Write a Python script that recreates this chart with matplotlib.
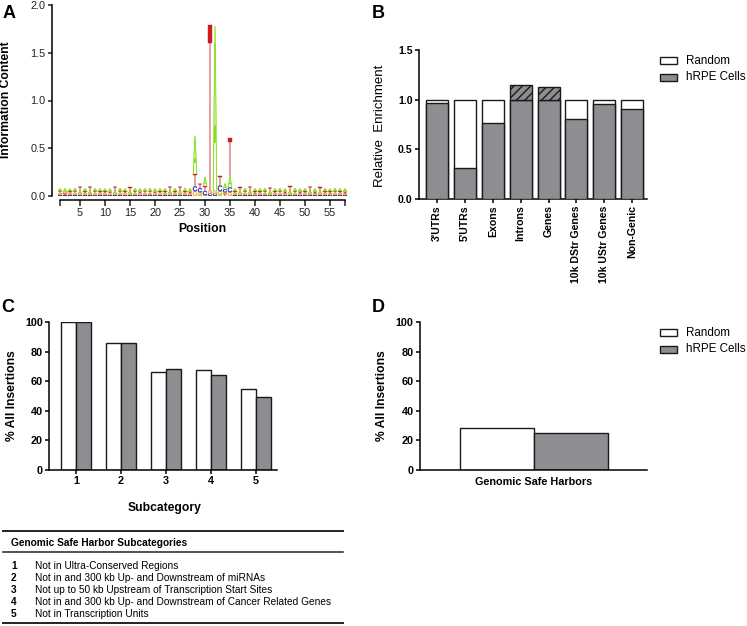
import matplotlib
matplotlib.use("Agg")
import matplotlib.pyplot as plt
from matplotlib.textpath import TextPath
from matplotlib.patches import PathPatch, Rectangle
from matplotlib.font_manager import FontProperties
from matplotlib.lines import Line2D
import matplotlib.transforms as mtrans
import numpy as np

plt.rcParams['font.family'] = ['Liberation Sans', 'DejaVu Sans']
plt.rcParams['hatch.linewidth'] = 1.0

# ---------------- data ----------------
# Panel A: sequence logo, information content (bits) per letter, positions 1..58
positions = list(range(1, 59))
logo_A = [.030, .032, .028, .030, .026, .031, .027, .029, .030, .028,
          .030, .029, .031, .028, .027, .030, .032, .029, .031, .030,
          .029, .031, .027, .033, .028, .034, .036,
          .40, .01, .10, .005, 1.72, .01, .06, .12,
          .030, .027, .031, .028, .030, .029, .031, .027, .030, .029,
          .031, .028, .030, .029, .031, .028, .030, .027, .031, .029, .030, .028, .032]
logo_T = [.022, .018, .020, .024, .040, .020, .042, .022, .020, .021,
          .020, .038, .021, .022, .036, .020, .019, .023, .021, .020,
          .022, .020, .044, .021, .040, .020, .018,
          .13, .05, .05, 1.74, .005, .10, .02, .40,
          .020, .038, .021, .036, .022, .020, .021, .034, .020, .022,
          .020, .045, .022, .021, .020, .036, .021, .034, .020, .022, .021, .020, .019]
logo_G = [.016, .018, .017, .015, .018, .016, .017, .018, .016, .017,
          .017, .016, .018, .017, .016, .018, .017, .016, .018, .017,
          .016, .017, .018, .016, .017, .018, .016,
          .05, .03, .01, .03, .03, .04, .02, .04,
          .017, .016, .018, .017, .016, .018, .017, .016, .018, .017,
          .016, .018, .017, .016, .018, .017, .016, .018, .017, .016, .018, .017, .016]
logo_C = [.012, .010, .011, .012, .010, .012, .011, .010, .012, .011,
          .010, .011, .012, .010, .011, .012, .010, .011, .012, .010,
          .011, .012, .010, .011, .012, .011, .010,
          .05, .04, .04, .02, .02, .06, .03, .05,
          .012, .010, .011, .012, .010, .011, .012, .010, .011, .012,
          .010, .011, .012, .010, .011, .012, .010, .011, .012, .010, .011, .012, .010]
letter_colors = {'A': '#86E01E', 'T': '#CC1C1C', 'G': '#EEB040', 'C': '#2C2CC0'}

# Panel B: relative enrichment
b_categories = ["3'UTRs", "5'UTRs", "Exons", "Introns", "Genes",
                "10k DStr Genes", "10k UStr Genes", "Non-Genic"]
b_random = [1.0, 1.0, 1.0, 1.0, 1.0, 1.0, 1.0, 1.0]
b_hrpe = [0.97, 0.31, 0.77, 1.15, 1.13, 0.81, 0.96, 0.91]

# Panel C: % all insertions per subcategory
c_subcats = [1, 2, 3, 4, 5]
c_random = [100, 86, 66.5, 67.5, 54.5]
c_hrpe = [100, 86, 68.5, 64, 49.5]

# Panel D
d_category = ["Genomic Safe Harbors"]
d_random = [28.7]
d_hrpe = [25.2]

series_names = ["Random", "hRPE Cells"]
series_colors = ["white", "#8E8E92"]

table_title = "Genomic Safe Harbor Subcategories"
table_rows = ["Not in Ultra-Conserved Regions",
              "Not in and 300 kb Up- and Downstream of miRNAs",
              "Not up to 50 kb Upstream of Transcription Start Sites",
              "Not in and 300 kb Up- and Downstream of Cancer Related Genes",
              "Not in Transcription Units"]

# ---------------- layout helpers ----------------
W, H = 747, 626
fig = plt.figure(figsize=(W / 100, H / 100), dpi=100)
PT = 0.72  # px -> pt
TICK_FS = 7.8
LAB_FS = 8.7


def add_ax(x0, x1, ytop, ybot):
    return fig.add_axes([x0 / W, 1 - ybot / H, (x1 - x0) / W, (ybot - ytop) / H])


def style_axes(ax, bold_ticks=True, fs=TICK_FS):
    for s in ['top', 'right']:
        ax.spines[s].set_visible(False)
    for s in ['left', 'bottom']:
        ax.spines[s].set_linewidth(1.1)
    ax.tick_params(direction='out', length=3, width=1.1, labelsize=fs, pad=1.5)
    if bold_ticks:
        for lab in ax.get_xticklabels() + ax.get_yticklabels():
            lab.set_fontweight('bold')


def label_coords(ax, axis, px, py):
    inv = ax.transAxes.inverted()
    disp = fig.transFigure.transform((px / W, 1 - py / H))
    x, y = inv.transform(disp)
    if axis == 'y':
        ax.yaxis.set_label_coords(x, y)
    else:
        ax.xaxis.set_label_coords(x, y)


# ---------------- Panel A: logo ----------------
axA = add_ax(57.5, 347.5, 5, 196)
axA.set_xlim(0.5, 58.5)
axA.set_ylim(0, 2.0)
fp = FontProperties(family='Liberation Sans', weight='normal')
letter_paths = {ch: TextPath((0, 0), ch, size=1, prop=fp) for ch in 'ATGC'}


def draw_letter(ax, ch, x, y, w, h):
    tp = letter_paths[ch]
    ext = tp.get_extents()
    t = (mtrans.Affine2D().translate(-ext.x0, -ext.y0)
         .scale(w / ext.width, h / ext.height).translate(x - w / 2, y))
    ax.add_patch(PathPatch(t.transform_path(tp), fc=letter_colors[ch],
                           ec=letter_colors[ch], lw=0.3))


for i, p in enumerate(positions):
    hs = [('A', logo_A[i]), ('T', logo_T[i]), ('G', logo_G[i]), ('C', logo_C[i])]
    hs.sort(key=lambda t: t[1])
    y0 = 0.0
    for ch, h in hs:
        if h > 0:
            draw_letter(axA, ch, p, y0, 0.82, h)
        y0 += h

axA.spines['left'].set_position(('outward', 5.5 * PT))
axA.spines['bottom'].set_position(('outward', 4 * PT))
axA.spines['left'].set_bounds(0, 2)
axA.spines['bottom'].set_bounds(1, 58)
axA.set_yticks([0, 0.5, 1.0, 1.5, 2.0])
axA.set_yticklabels(['0.0', '0.5', '1.0', '1.5', '2.0'])
xt = [1] + list(range(5, 56, 5)) + [58]
axA.set_xticks(xt)
axA.set_xticklabels([''] + [str(v) for v in range(5, 56, 5)] + [''])
style_axes(axA, bold_ticks=False)
axA.tick_params(colors='#222222')
axA.tick_params(axis='x', length=4)
axA.set_ylabel('Information Content', fontsize=LAB_FS, fontweight='bold')
axA.set_xlabel('Position', fontsize=LAB_FS, fontweight='bold')
label_coords(axA, 'y', 12, 100)
label_coords(axA, 'x', 202, 223)

# ---------------- Panel B ----------------
axB = add_ax(419, 647, 50, 199)
xb = np.arange(len(b_categories))
bw = 0.79
axB.bar(xb, b_random, width=bw, color=series_colors[0], edgecolor='#1a1a1a', lw=1.0, zorder=2)
hr_base = [min(v, 1.0) for v in b_hrpe]
axB.bar(xb, hr_base, width=bw, color=series_colors[1], edgecolor='#1a1a1a', lw=1.0, zorder=3)
exc_x = [x for x, v in zip(xb, b_hrpe) if v > 1.0]
exc_h = [v - 1.0 for v in b_hrpe if v > 1.0]
axB.bar(exc_x, exc_h, bottom=1.0, width=bw, color=series_colors[1], edgecolor='#1a1a1a',
        lw=1.0, hatch='////', zorder=3)
axB.set_xlim(-0.645, 7.53)
axB.set_ylim(0, 1.5)
axB.set_yticks([0, 0.5, 1.0, 1.5])
axB.set_yticklabels(['0.0', '0.5', '1.0', '1.5'])
axB.set_xticks(xb)
axB.set_xticklabels(b_categories, rotation=90)
style_axes(axB, fs=7.6)
axB.spines['left'].set_bounds(0, 1.5)
axB.set_ylabel('Relative  Enrichment', fontsize=9.5)
label_coords(axB, 'y', 386, 126)

# ---------------- Panel C ----------------
axC = add_ax(49, 277, 322, 470)
xc = np.array(c_subcats, dtype=float)
cw = 0.333
axC.bar(xc - cw / 2, c_random, width=cw, color=series_colors[0], edgecolor='#1a1a1a', lw=1.0)
axC.bar(xc + cw / 2, c_hrpe, width=cw, color=series_colors[1], edgecolor='#1a1a1a', lw=1.0)
axC.set_xlim(0.4, 5.47)
axC.set_ylim(0, 100)
axC.set_yticks(range(0, 101, 20))
axC.set_xticks(xc)
axC.set_xticklabels([str(v) for v in c_subcats])
style_axes(axC)
axC.set_ylabel('% All Insertions', fontsize=LAB_FS, fontweight='bold')
axC.set_xlabel('Subcategory', fontsize=LAB_FS, fontweight='bold')
label_coords(axC, 'y', 18, 396)
label_coords(axC, 'x', 165, 502)

# ---------------- Panel D ----------------
axD = add_ax(420, 647, 322, 470)
axD.bar([-0.5], d_random, width=1.0, color=series_colors[0], edgecolor='#1a1a1a', lw=1.0)
axD.bar([0.5], d_hrpe, width=1.0, color=series_colors[1], edgecolor='#1a1a1a', lw=1.0)
axD.set_xlim(-114 / 74, 113 / 74)
axD.set_ylim(0, 100)
axD.set_yticks(range(0, 101, 20))
axD.set_xticks([0])
axD.set_xticklabels(d_category)
style_axes(axD)
axD.tick_params(axis='x', length=0, pad=5)
axD.set_ylabel('% All Insertions', fontsize=LAB_FS, fontweight='bold')
label_coords(axD, 'y', 388, 396)

# ---------------- overlay: panel letters, legends, table ----------------
axT = fig.add_axes([0, 0, 1, 1])
axT.set_xlim(0, W)
axT.set_ylim(H, 0)
axT.axis('off')
axT.patch.set_visible(False)

for lab, x, y in [('A', 3, 14), ('B', 372, 13), ('C', 1, 307), ('D', 372, 307)]:
    axT.text(x, y, lab, fontsize=13, fontweight='bold', ha='left', va='center')

for ytop in (57, 329):
    for k, (name, col) in enumerate(zip(series_names, series_colors)):
        yy = ytop + k * 17
        axT.add_patch(Rectangle((660, yy), 17, 7, fc=col, ec='#1a1a1a', lw=1.0))
        axT.text(686, yy + 3.5, name, fontsize=8.4, ha='left', va='center')

axT.add_line(Line2D([3, 343], [531, 531], color='#222222', lw=1.4))
axT.add_line(Line2D([3, 343], [552, 552], color='#222222', lw=1.1))
axT.add_line(Line2D([3, 343], [623, 623], color='#222222', lw=1.4))
axT.text(11, 543, table_title, fontsize=7.3, fontweight='bold', ha='left', va='center')
for k, row in enumerate(table_rows):
    yy = 566 + k * 12
    axT.text(11, yy, str(k + 1), fontsize=7.3, fontweight='bold', ha='left', va='center')
    axT.text(35, yy, row, fontsize=7.3, ha='left', va='center')

fig.savefig('out.png', dpi=100)
